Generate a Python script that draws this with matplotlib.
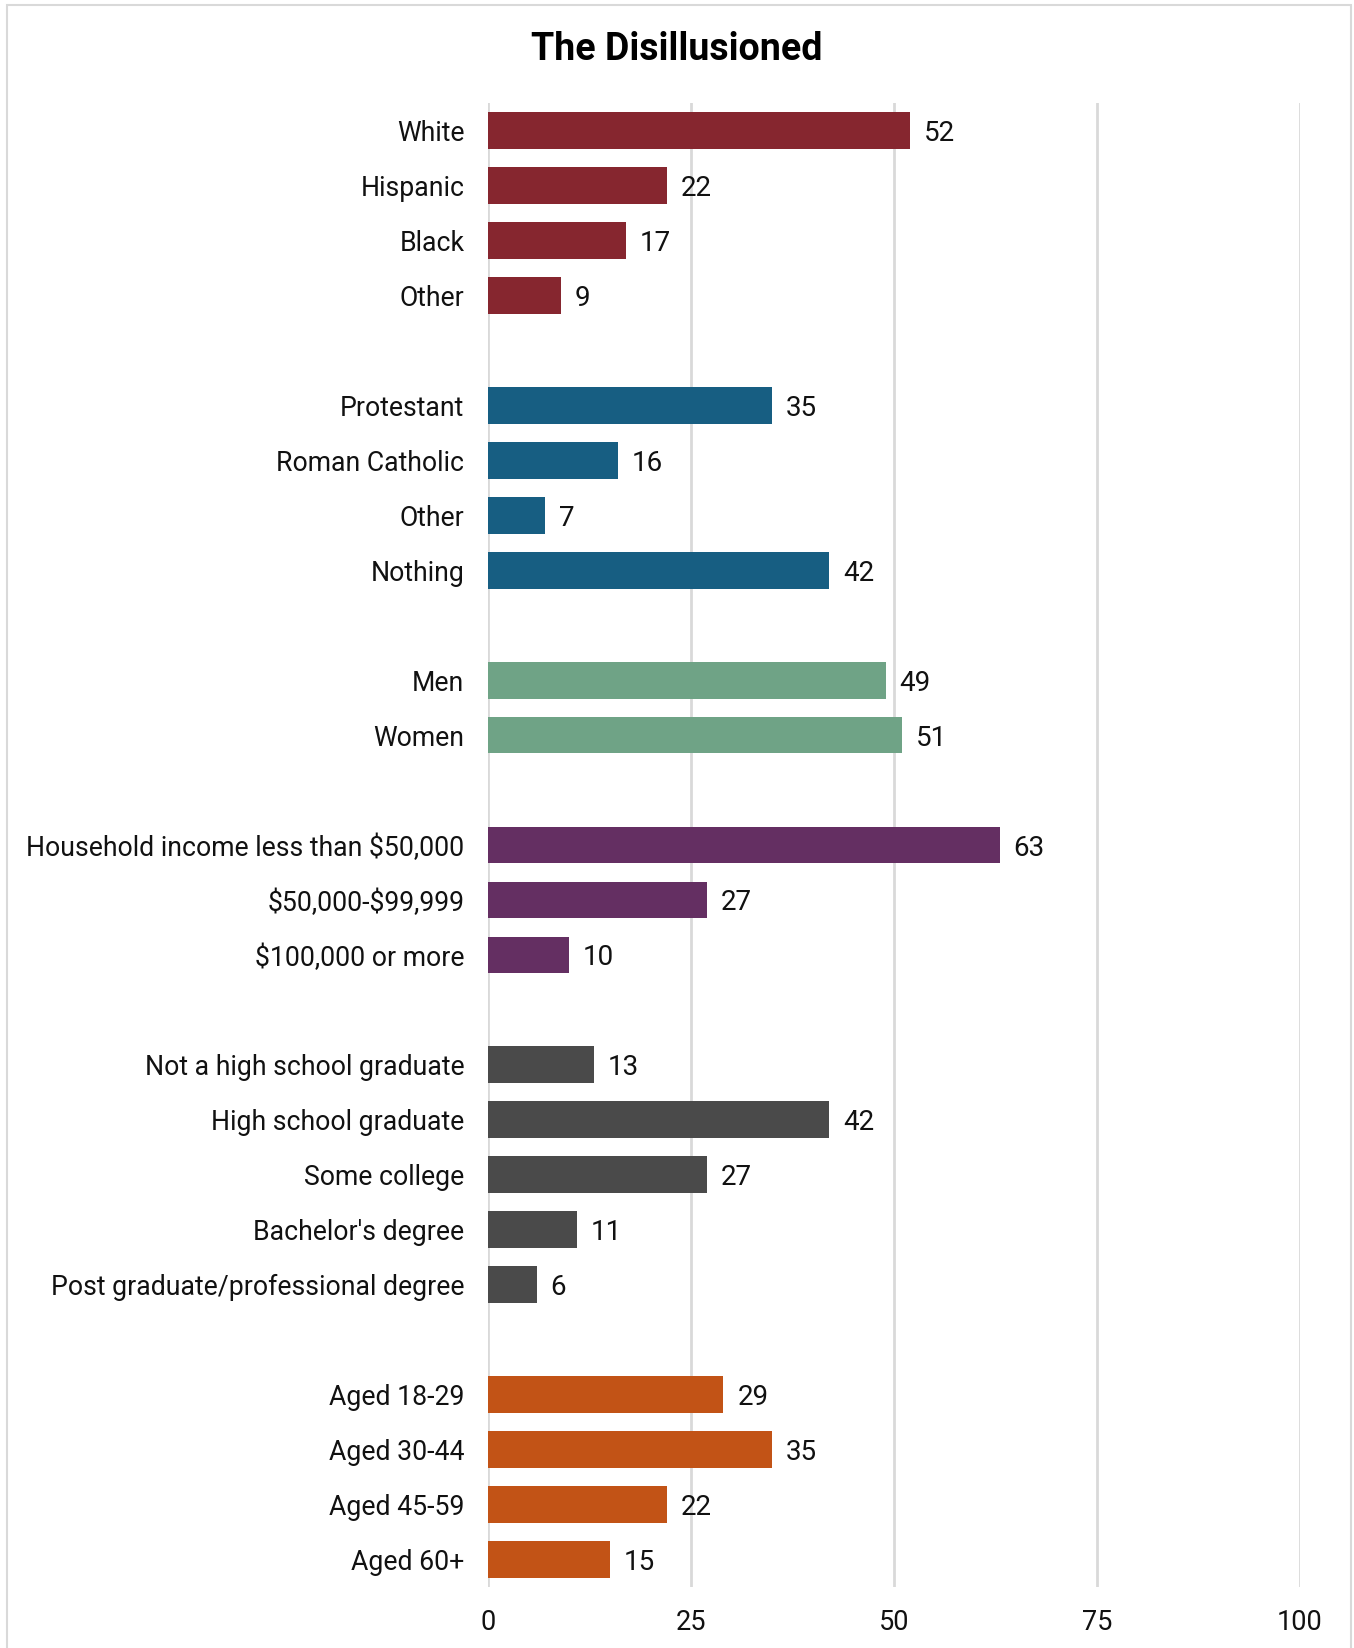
import matplotlib.pyplot as plt
from matplotlib.patches import Rectangle

plt.rcParams['font.family'] = ['Roboto', 'DejaVu Sans']
plt.rcParams['text.parse_math'] = False

race = ['White', 'Hispanic', 'Black', 'Other']
race_vals = [52, 22, 17, 9]
religion = ['Protestant', 'Roman Catholic', 'Other', 'Nothing']
religion_vals = [35, 16, 7, 42]
gender = ['Men', 'Women']
gender_vals = [49, 51]
income = ['Household income less than $50,000', '$50,000-$99,999', '$100,000 or more']
income_vals = [63, 27, 10]
education = ['Not a high school graduate', 'High school graduate', 'Some college',
             "Bachelor's degree", 'Post graduate/professional degree']
education_vals = [13, 42, 27, 11, 6]
age = ['Aged 18-29', 'Aged 30-44', 'Aged 45-59', 'Aged 60+']
age_vals = [29, 35, 22, 15]

groups = [(race, race_vals, '#86262F'),
          (religion, religion_vals, '#175E82'),
          (gender, gender_vals, '#6FA386'),
          (income, income_vals, '#642F62'),
          (education, education_vals, '#4A4A4A'),
          (age, age_vals, '#C25316')]

fig = plt.figure(figsize=(13.54, 16.48), dpi=100)
ax = fig.add_axes([488 / 1354, 1 - 1587 / 1648, (1300 - 488) / 1354, (1587 - 103) / 1648])

labels, ypos = [], []
row = 0
for names, vals, color in groups:
    for name, v in zip(names, vals):
        ax.barh(row, v, height=0.67, color=color, zorder=3)
        ax.text(v + 1.7, row, str(v), va='center_baseline', ha='left', fontsize=20, color='#111111')
        labels.append(name)
        ypos.append(row)
        row += 1
    row += 1

ax.set_ylim(row - 1.5, -0.5)
ax.set_xlim(0, 100)
ax.set_yticks(ypos)
ax.set_yticklabels(labels, fontsize=19.2, color='#111111', va='center_baseline')
ax.set_xticks([0, 25, 50, 75, 100])
ax.tick_params(axis='x', labelsize=19.5, colors='#111111', length=0, pad=16)
ax.tick_params(axis='y', length=0, pad=17)
ax.grid(axis='x', color='#D9D9D9', linewidth=2, zorder=0)
for s in ax.spines.values():
    s.set_visible(False)

fig.text(0.5, 1 - 50 / 1648, 'The Disillusioned', ha='center', va='center',
         fontsize=27, fontweight='bold', color='black')

fig.patches.append(Rectangle((7 / 1354, -0.01), (1351 - 7) / 1354, 1.01 - 5 / 1648,
                             transform=fig.transFigure, fill=False,
                             edgecolor='#D9D9D9', linewidth=1.5))

fig.savefig('out.png', dpi=100)
